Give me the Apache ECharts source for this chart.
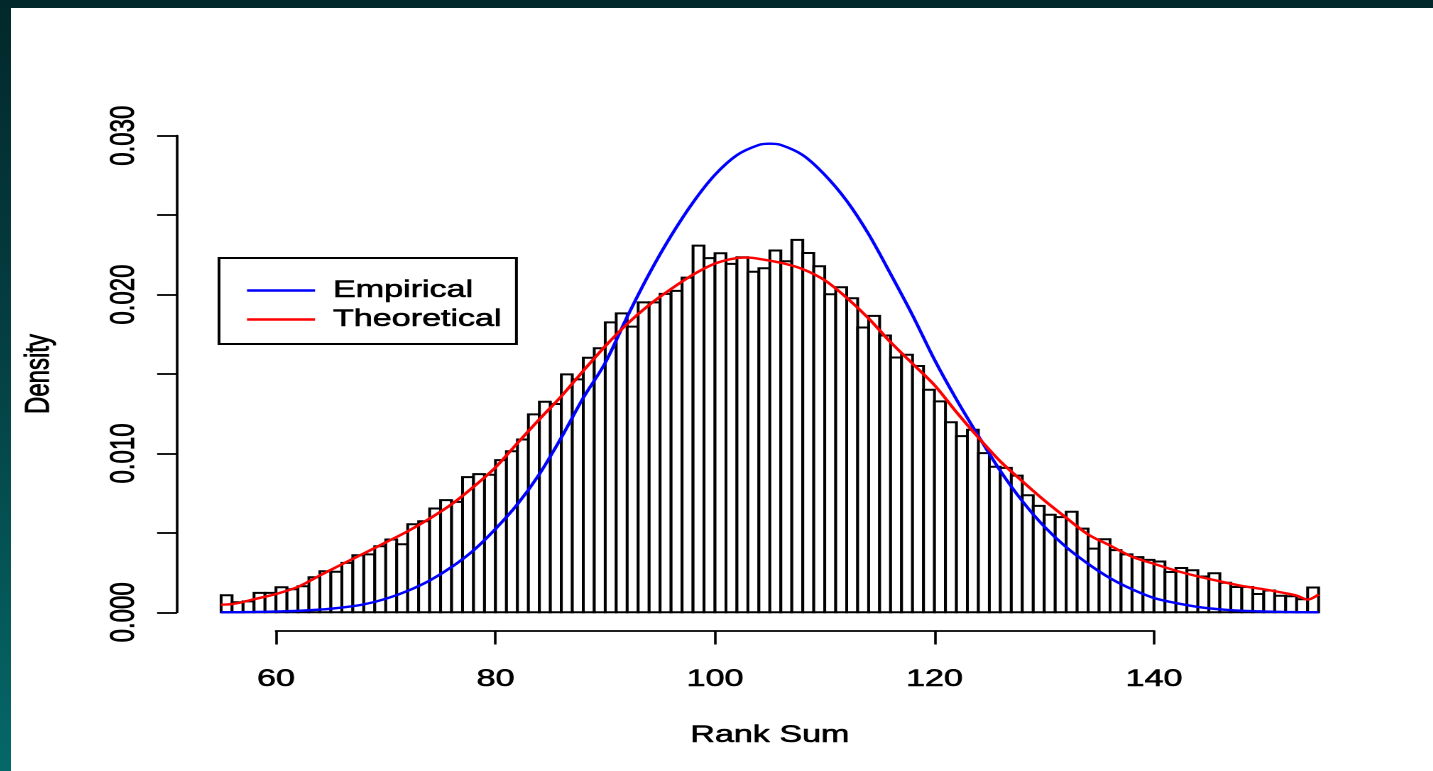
<!DOCTYPE html>
<html>
<head>
<meta charset="utf-8">
<script src="https://cdn.jsdelivr.net/npm/echarts@6/dist/echarts.min.js"></script>
<style>
  html, body { margin: 0; padding: 0; width: 1433px; height: 771px; overflow: hidden;
    background: linear-gradient(180deg, #02282b 0%, #043f42 45%, #056868 100%); }
  #frame { position: absolute; left: 11px; top: 8px; width: 1422px; height: 763px; background: #ffffff; overflow: hidden; }
  #chart { position: absolute; left: 0; top: 0; height: 763px; transform-origin: 0 0; }
</style>
</head>
<body>
<div id="frame"><div id="chart"></div></div>
<script>
// ---------------- data ----------------
const binLeft = [55,56,57,58,59,60,61,62,63,64,65,66,67,68,69,70,71,72,73,74,75,76,77,78,79,80,81,82,83,84,
  85,86,87,88,89,90,91,92,93,94,95,96,97,98,99,100,101,102,103,104,105,106,107,108,109,110,111,112,113,114,
  115,116,117,118,119,120,121,122,123,124,125,126,127,128,129,130,131,132,133,134,135,136,137,138,139,140,141,142,143,144,
  145,146,147,148,149,150,151,152,153,154];
const binWidth = 1;
const density = [0.00107,0.00063,0.00069,0.00122,0.00122,0.00158,0.00145,0.00164,0.00221,0.00258,
  0.00255,0.00311,0.00359,0.00365,0.00416,0.00458,0.00428,0.00554,0.00573,0.00653,
  0.00706,0.00695,0.00851,0.00870,0.00866,0.00958,0.01014,0.01088,0.01246,0.01325,
  0.01311,0.01498,0.01466,0.01602,0.01662,0.01825,0.01882,0.01798,0.01951,0.01951,
  0.02004,0.02023,0.02107,0.02308,0.02229,0.02260,0.02193,0.02235,0.02144,0.02166,
  0.02277,0.02210,0.02344,0.02262,0.02178,0.02002,0.02046,0.01977,0.01793,0.01866,
  0.01742,0.01604,0.01621,0.01550,0.01401,0.01328,0.01196,0.01109,0.01149,0.01002,
  0.00916,0.00909,0.00860,0.00737,0.00670,0.00614,0.00599,0.00633,0.00527,0.00401,
  0.00460,0.00391,0.00365,0.00347,0.00330,0.00320,0.00254,0.00279,0.00265,0.00225,
  0.00246,0.00186,0.00159,0.00159,0.00115,0.00137,0.00104,0.00101,0.00082,0.00156];
const empiricalX = [55,58,60,62,64,66,68,70,72,74,76,78,80,82,84,86,88,90,92,94,96,98,100,102,104,105,106,108,110,
  112,114,116,118,120,122,124,126,128,130,132,134,136,138,140,142,144,146,148,150,152,155];
const empiricalY = [0.00000,0.00002,0.00005,0.00009,0.00017,0.00030,0.00050,0.00085,0.00135,0.00200,0.00285,0.00390,
  0.00525,0.00680,0.00870,0.01100,0.01350,0.01570,0.01860,0.02130,0.02370,0.02580,0.02754,0.02878,0.02942,0.02950,
  0.02942,0.02878,0.02754,0.02590,0.02380,0.02130,0.01870,0.01590,0.01340,0.01110,0.00890,0.00700,0.00540,0.00410,
  0.00305,0.00215,0.00145,0.00090,0.00058,0.00034,0.00019,0.00010,0.00005,0.00002,0.00000];
const theoreticalX = [55,56,57,58,60,62,64,66,68,70,72,74,76,78,80,82,84,86,88,90,92,94,96,98,100,102,103,104,106,108,
  110,112,114,116,118,120,122,124,126,128,130,132,134,136,138,140,142,144,146,148,150,152,153,154,155];
const theoreticalY = [0.00048,0.00052,0.00065,0.00082,0.00115,0.00160,0.00232,0.00302,0.00370,0.00440,0.00510,0.00590,
  0.00680,0.00790,0.00912,0.01065,0.01215,0.01360,0.01520,0.01675,0.01815,0.01935,0.02035,0.02125,0.02195,0.02230,
  0.02233,0.02225,0.02200,0.02160,0.02090,0.01980,0.01850,0.01700,0.01565,0.01430,0.01260,0.01100,0.00950,0.00825,
  0.00705,0.00595,0.00490,0.00420,0.00350,0.00305,0.00262,0.00226,0.00195,0.00166,0.00145,0.00120,0.00105,0.00080,0.00112];
const xTicks = [60, 80, 100, 120, 140];
const yTickLabels = ['0.000', '0.010', '0.020', '0.030'];
const legendNames = ['Empirical', 'Theoretical'];

// ---------------- layout (reference is stretched horizontally) ----------------
const SX = 1.42, OX = 11, OY = 8;
const LX = X => (X - OX) / SX;
const LW = W => W / SX;
const LY = Y => Y - OY;
const FONT = '"Liberation Sans", Arial, Helvetica, sans-serif';
const FS = 24;
const TXT = { color: '#000', fontSize: FS, fontFamily: FONT, textBorderColor: '#000', textBorderWidth: 0.6 };

const chartDom = document.getElementById('chart');
chartDom.style.width = (1422 / SX) + 'px';
chartDom.style.transform = 'scaleX(' + SX + ')';

const mctx = document.createElement('canvas').getContext('2d');
mctx.font = FS + 'px ' + FONT;
const maxLegendText = Math.max(...legendNames.map(n => mctx.measureText(n).width));

const y0px = 612.3, y30px = 135.7;
const plotTop = LY(y30px), plotH = y0px - y30px;
const padL = LW(247 - 219), iconW = LW(315 - 247), textPadL = LW(18) - 5;
const boxW = LW(516 - 219);
const padR = Math.max(2, boxW - padL - iconW - 5 - textPadL - maxLegendText);

const chart = echarts.init(chartDom, null, { renderer: 'canvas', devicePixelRatio: 2 });
const axisLineStyle = { color: '#000', width: 1.8 };
chart.setOption({
  animation: false,
  backgroundColor: '#ffffff',
  textStyle: { fontFamily: FONT },
  grid: [
    { left: LX(221.1), top: plotTop, width: LW(1097.5), height: plotH, containLabel: false },
    { left: LX(276), top: plotTop, width: LW(878), height: 630.5 - y30px, containLabel: false },
    { left: LX(177), top: plotTop, width: 100, height: plotH, containLabel: false }
  ],
  xAxis: [
    { gridIndex: 0, type: 'value', min: 55, max: 155,
      axisLine: { show: false }, axisTick: { show: false }, axisLabel: { show: false }, splitLine: { show: false },
      name: 'Rank Sum', nameLocation: 'middle', nameGap: 111, nameTextStyle: TXT },
    { gridIndex: 1, type: 'value', min: xTicks[0], max: xTicks[xTicks.length - 1], interval: 20,
      axisLine: { show: true, lineStyle: axisLineStyle },
      axisTick: { show: true, length: 14, lineStyle: axisLineStyle },
      axisLabel: Object.assign({ show: true, margin: 37 }, TXT),
      splitLine: { show: false } },
    { gridIndex: 2, type: 'value', min: 0, max: 1, show: false }
  ],
  yAxis: [
    { gridIndex: 0, type: 'value', min: 0, max: 0.03, show: false },
    { gridIndex: 1, type: 'value', min: 0, max: 1, show: false },
    { gridIndex: 2, type: 'value', min: 0, max: 0.03, interval: 0.005,
      axisLine: { show: true, lineStyle: axisLineStyle },
      axisTick: { show: true, length: 14, lineStyle: axisLineStyle },
      axisLabel: Object.assign({ show: true, rotate: 90, margin: 25,
        formatter: v => { const k = Math.round(v * 1000); return k % 10 === 0 ? yTickLabels[k / 10] : ''; } }, TXT),
      splitLine: { show: false },
      name: 'Density', nameLocation: 'middle', nameRotate: 90, nameGap: 85,
      nameTextStyle: TXT }
  ],
  legend: {
    orient: 'vertical', left: LX(219), top: LY(258),
    data: legendNames.map(n => ({ name: n, icon: 'rect' })),
    itemWidth: iconW, itemHeight: 2.4, itemGap: 0,
    padding: [18, padR, 10, padL],
    borderColor: '#000', borderWidth: 2, backgroundColor: '#fff',
    selectedMode: false,
    textStyle: Object.assign({ lineHeight: 29, padding: [0, 0, 0, textPadL] }, TXT)
  },
  series: [
    {
      type: 'custom', name: 'hist', xAxisIndex: 0, yAxisIndex: 0, z: 1,
      data: binLeft.map((x, i) => [x, density[i]]),
      encode: { x: 0, y: 1 },
      renderItem: (params, api) => {
        const x = api.value(0), h = api.value(1);
        const a = api.coord([x, h]);
        const b = api.coord([x + binWidth, 0]);
        return { type: 'rect', shape: { x: a[0], y: a[1], width: b[0] - a[0], height: b[1] - a[1] },
          style: { fill: '#ffffff', stroke: '#000000', lineWidth: 2 } };
      }
    },
    {
      type: 'line', name: 'Empirical', xAxisIndex: 0, yAxisIndex: 0, z: 3,
      data: empiricalX.map((x, i) => [x, empiricalY[i]]),
      smooth: 0.3, showSymbol: false, symbol: 'none',
      lineStyle: { color: '#0000ff', width: 2.4 }, itemStyle: { color: '#0000ff' }
    },
    {
      type: 'line', name: 'Theoretical', xAxisIndex: 0, yAxisIndex: 0, z: 4,
      data: theoreticalX.map((x, i) => [x, theoreticalY[i]]),
      smooth: 0.3, showSymbol: false, symbol: 'none',
      lineStyle: { color: '#ff0000', width: 2.4 }, itemStyle: { color: '#ff0000' }
    }
  ]
});
</script>
</body>
</html>
